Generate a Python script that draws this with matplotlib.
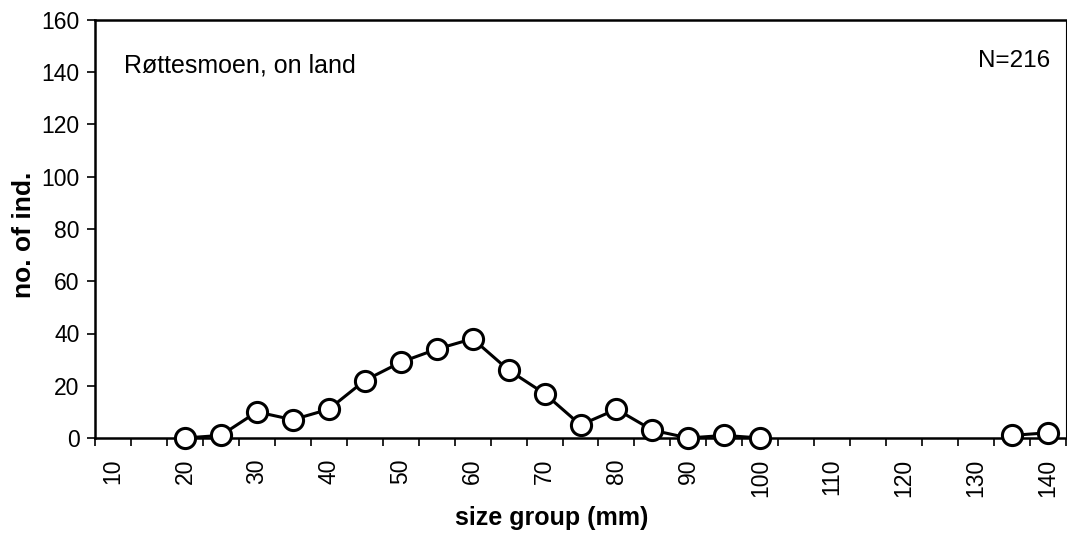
import matplotlib.pyplot as plt
import numpy as np

plt.rcParams['font.family'] = ['Liberation Sans', 'DejaVu Sans']

# size groups (mm) and counts; blank groups are NaN
sizes = list(range(10, 145, 5))
counts = [np.nan, np.nan, 0, 1, 10, 7, 11, 22, 29, 34, 38, 26, 17, 5, 11, 3,
          0, 1, 0, np.nan, np.nan, np.nan, np.nan, np.nan, np.nan, 1, 2]
tick_labels = [str(s) if s % 10 == 0 else "" for s in sizes]
y_ticks = [0, 20, 40, 60, 80, 100, 120, 140, 160]

fig = plt.figure(figsize=(10.67, 5.36), dpi=100)
ax = fig.add_axes([95 / 1067, 98 / 536, 971 / 1067, 418 / 536])

ax.plot(sizes, counts, color="black", linewidth=2.2, marker="o",
        markersize=14.5, markerfacecolor="white", markeredgecolor="black",
        markeredgewidth=2.2, clip_on=False, zorder=3)

ax.set_xlim(7.5, 141.5)
ax.set_ylim(0, 160)
ax.set_yticks(y_ticks)
ax.set_yticklabels([str(v) for v in y_ticks], fontsize=16.5)

# category axis: ticks between groups, labels on every other group
ax.set_xticks([s - 2.5 for s in sizes] + [sizes[-1] + 2.5])
ax.set_xticklabels([])
ax.set_xticks(sizes, minor=True)
ax.set_xticklabels(tick_labels, minor=True, rotation=90, fontsize=16.5)
ax.tick_params(axis="x", which="minor", length=0, pad=15)
ax.tick_params(axis="x", which="major", length=6, width=1.2, direction="out")
ax.tick_params(axis="y", length=6, width=1.2, direction="out", pad=5)

for side in ["left", "top", "right", "bottom"]:
    ax.spines[side].set_linewidth(1.8)
ax.spines["right"].set_linewidth(0.8)

ax.text(29 / 971, 1 - 46 / 418, "Røttesmoen, on land", transform=ax.transAxes,
        fontsize=18, ha="left", va="center")
ax.text(955 / 971, 1 - 41 / 418, "N=216", transform=ax.transAxes,
        fontsize=17.5, ha="right", va="center")

fig.text(552 / 1067, 1 - 518 / 536, "size group (mm)", fontsize=18,
         fontweight="bold", ha="center", va="center")
fig.text(24 / 1067, 1 - 235 / 536, "no. of ind.", fontsize=19,
         fontweight="bold", rotation=90, ha="center", va="center")

fig.savefig("out.png", dpi=100)
